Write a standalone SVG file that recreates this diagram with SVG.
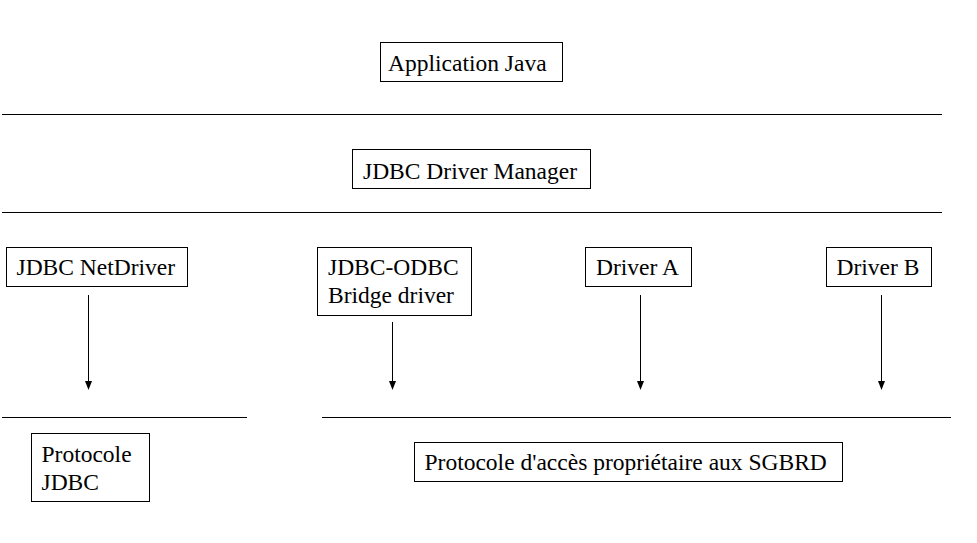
<svg xmlns="http://www.w3.org/2000/svg" width="977" height="543" viewBox="0 0 977 543">
<style>
.box{fill:#fff;stroke:#000;stroke-width:1}
.ln{stroke:#000;stroke-width:1;fill:none}
.ah{fill:#000}
</style>
<rect width="977" height="543" fill="#fff"/>
<g id="layers">
<line class="ln" x1="2" y1="114.5" x2="942" y2="114.5"/>
<line class="ln" x1="2" y1="212.5" x2="942" y2="212.5"/>
<line class="ln" x1="2" y1="417.5" x2="247" y2="417.5"/>
<line class="ln" x1="322" y1="417.5" x2="951" y2="417.5"/>
</g>
<g id="app">
<rect class="box" x="380.5" y="42.5" width="182" height="39"/>
<text font-family="Times New Roman, Liberation Serif, serif" font-size="23.5" x="388" y="71">Application Java</text>
</g>
<g id="dm">
<rect class="box" x="352.5" y="149.5" width="238" height="39"/>
<text font-family="Times New Roman, Liberation Serif, serif" font-size="23.5" x="363" y="179">JDBC Driver Manager</text>
</g>
<g id="net">
<rect class="box" x="6.5" y="247.5" width="181" height="39"/>
<text font-family="Times New Roman, Liberation Serif, serif" font-size="23.5" x="16.5" y="274.5">JDBC NetDriver</text>
</g>
<g id="odbc">
<rect class="box" x="317.5" y="247.5" width="154" height="68"/>
<text font-family="Times New Roman, Liberation Serif, serif" font-size="23.5" x="328" y="275">JDBC-ODBC</text>
<text font-family="Times New Roman, Liberation Serif, serif" font-size="23.5" x="328" y="303">Bridge driver</text>
</g>
<g id="drva">
<rect class="box" x="585.5" y="247.5" width="106" height="39"/>
<text font-family="Times New Roman, Liberation Serif, serif" font-size="23.5" x="596" y="274.5">Driver A</text>
</g>
<g id="drvb">
<rect class="box" x="826.5" y="247.5" width="105" height="39"/>
<text font-family="Times New Roman, Liberation Serif, serif" font-size="23.5" x="836.5" y="274.5">Driver B</text>
</g>
<g id="pjdbc">
<rect class="box" x="31.5" y="433.5" width="118" height="68"/>
<text font-family="Times New Roman, Liberation Serif, serif" font-size="23.5" x="41.5" y="462">Protocole</text>
<text font-family="Times New Roman, Liberation Serif, serif" font-size="23.5" x="41.5" y="489.5">JDBC</text>
</g>
<g id="prop">
<rect class="box" x="414.5" y="442.5" width="428" height="39"/>
<text font-family="Times New Roman, Liberation Serif, serif" font-size="23.5" x="424.5" y="470">Protocole d'accès propriétaire aux SGBRD</text>
</g>
<g id="connectors">
<line class="ln" x1="88.5" y1="295" x2="88.5" y2="381"/>
<path class="ah" d="M85,381 L92,381 L88.5,390 Z"/>
<line class="ln" x1="392.5" y1="322" x2="392.5" y2="381"/>
<path class="ah" d="M389,381 L396,381 L392.5,390 Z"/>
<line class="ln" x1="640.5" y1="295" x2="640.5" y2="381"/>
<path class="ah" d="M637,381 L644,381 L640.5,390 Z"/>
<line class="ln" x1="881.5" y1="295" x2="881.5" y2="381"/>
<path class="ah" d="M878,381 L885,381 L881.5,390 Z"/>
</g>
</svg>
